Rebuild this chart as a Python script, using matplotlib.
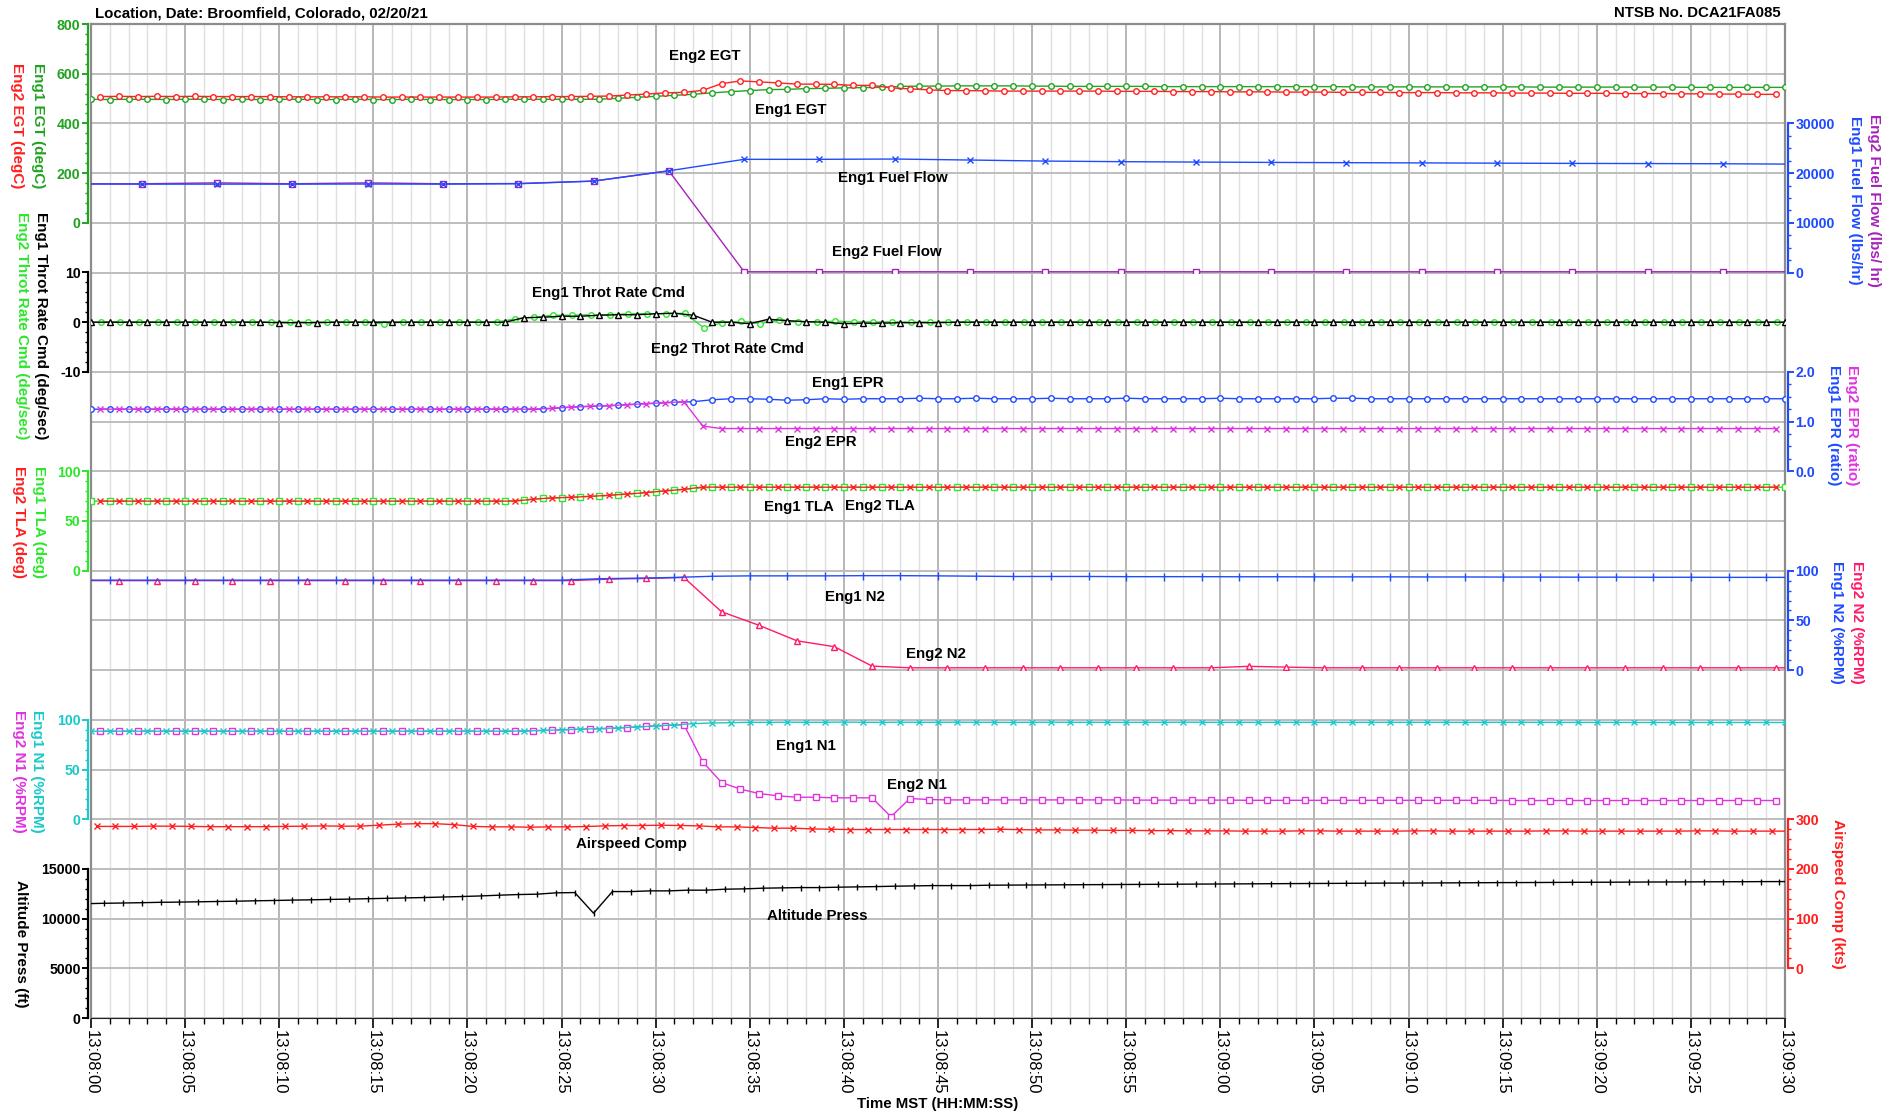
"""Flight-data strip chart: engine and air-data channels stacked on one time axis."""

import numpy as np
import matplotlib

matplotlib.use("Agg")
import matplotlib.pyplot as plt
from matplotlib.ticker import FuncFormatter, MultipleLocator

plt.rcParams["font.family"] = ["Liberation Sans", "DejaVu Sans"]
plt.rcParams["font.weight"] = "bold"

# ---------------------------------------------------------------- data
x_tick_labels = [
    "13:08:00", "13:08:05", "13:08:10", "13:08:15", "13:08:20", "13:08:25",
    "13:08:30", "13:08:35", "13:08:40", "13:08:45", "13:08:50", "13:08:55",
    "13:09:00", "13:09:05", "13:09:10", "13:09:15", "13:09:20", "13:09:25",
    "13:09:30",
]

# EGT (degC), Eng1 sampled on whole seconds, Eng2 on half seconds
egt1 = [497, 496, 497, 497, 496, 497, 497, 496, 497, 496, 497, 497, 496, 496, 497, 496,
        496, 497, 496, 496, 496, 496, 497, 497, 497, 497, 497,
        497, 501, 505, 509, 513, 517, 523, 528, 532, 536, 537, 540, 541, 543, 544, 545, 549,
        550, 550, 551, 551, 551, 551, 550, 550, 549, 549,
        549, 549, 549, 548, 548, 548, 548, 548, 548, 548, 548, 548, 548, 547, 547, 547, 547,
        547, 547, 547, 547, 547, 547, 546, 546, 546, 546, 546, 546, 546, 546, 545, 545, 545,
        545, 545, 545]
egt2 = [508, 509, 508, 509, 508, 509, 508, 508, 508, 508, 507, 507, 507, 507, 507, 506,
        506, 506, 506, 506, 506, 506, 507,
        507, 508, 508, 509, 510, 514, 518, 523, 525, 533, 560, 571, 567, 563, 558, 558, 557,
        553, 553, 543, 539, 535, 532, 532, 531, 530, 530, 530, 530, 530, 530,
        529, 529, 529, 528, 528, 528, 527, 527, 527, 526, 526, 526, 525, 525, 525, 524, 524,
        524, 523, 523, 523, 522, 522, 522, 521, 521, 521, 520, 520, 520, 519, 519, 518, 518,
        517, 517]

# Fuel flow (lbs/hr), one sample every 4 s
ff_time = [-1.3, 2.7, 6.7, 10.7, 14.7, 18.7, 22.7, 26.7, 30.7, 34.7, 38.7, 42.7, 46.7,
           50.7, 54.7, 58.7, 62.7, 66.7, 70.7, 74.7, 78.7, 82.7, 86.7, 90.7]
ff1 = [17800, 17780, 17780, 17780, 17800, 17780, 17860, 18380, 20460, 22770, 22770, 22830,
       22630, 22420, 22300, 22220, 22150, 22100, 22050, 22000, 21950, 21920, 21880, 21800]
ff2 = [17850, 17850, 18040, 17850, 18040, 17850, 17900, 18400, 20460, 150, 150, 150,
       150, 150, 150, 150, 150, 150, 150, 150, 150, 150, 150, 150]

# Throttle rate command (deg/sec)
throt1 = [0, 0, 0, 0, 0, 0, 0, 0, 0, 0, -0.1, -0.1, -0.1, 0, 0, 0, 0, 0, 0, 0, 0, 0, 0,
          0.9, 1.0, 1.2, 1.2, 1.4, 1.5, 1.5, 1.7, 1.8, 1.4, 0.0, 0.0, -0.3, 0.6, 0.3, 0.1,
          0.0, -0.3, -0.2, -0.2,
          -0.1, -0.1, -0.1] + [0] * 45
throt2 = [0] * 15 + [-0.35, 0, 0, 0, 0, 0, 0,
                     0.7, 1.0, 1.4, 1.4, 1.5, 1.5, 1.7, 1.7, 1.7, 1.8, -1.1, -0.1, 0.2,
                     -0.3, 0.5, 0.1, 0.1, 0.2, 0.1] + [0] * 49

# EPR (ratio)
epr1 = [1.25] * 25 + [1.28, 1.30, 1.31, 1.33, 1.35, 1.37, 1.39, 1.40, 1.44, 1.46, 1.46,
                      1.45, 1.43, 1.44, 1.46, 1.45, 1.46, 1.46,
                      1.46, 1.47, 1.46, 1.46, 1.47, 1.46, 1.46, 1.46, 1.47, 1.46, 1.46,
                      1.46, 1.47, 1.46, 1.46, 1.46, 1.46, 1.47, 1.46, 1.46, 1.46, 1.46,
                      1.46, 1.47, 1.47, 1.46] + [1.46] * 22
epr2 = [1.25] * 24 + [1.27, 1.29, 1.31, 1.32, 1.34, 1.36, 1.38, 1.40, 0.91] + [0.86] * 57

# TLA (deg)
tla1 = [70.0] * 23 + [71.0, 72.8, 73.4, 74.4, 75.1, 76.5, 77.8, 79.5, 81.2, 82.8, 83.8] + [84.0] * 57
tla2 = [70.0] * 23 + [72.0, 73.2, 73.8, 74.8, 75.8, 77.2, 78.5, 80.3, 81.8, 84.2] + [84.0] * 57

# N2 (%RPM), one sample every 2 s
n2_1 = [90.5] * 14 + [91.9, 92.5, 93.2, 94.4, 94.8, 94.8, 94.8, 95.0, 95.0, 94.8, 94.5,
                      94.2, 94.2, 94.2,
                      94.0, 94.0, 94.0, 93.9, 93.9, 93.8, 93.8, 93.8, 93.7, 93.7, 93.6,
                      93.6, 93.5, 93.5, 93.4, 93.4, 93.3, 93.3, 93.3]
n2_2 = [90.0] * 14 + [91.5, 92.2, 93.2, 58.7, 45.0, 29.5, 23.5, 4.0, 2.3,
                      2.3, 2.3, 2.3, 2.3, 2.3, 2.3, 2.3, 2.3, 3.8, 3.0] + [2.3] * 14

# N1 (%RPM)
n1_1 = [88.5] * 23 + [88.8, 89.3, 89.9, 90.5, 91.2, 91.8, 92.8, 93.8, 94.8, 96.1, 96.8,
                      97.1,
                      97.5, 97.4, 97.6, 97.5, 97.5, 97.7, 97.5, 97.4, 97.6, 97.5, 97.5,
                      97.6, 97.5, 97.5, 97.4, 97.5, 97.6, 97.5, 97.5, 97.5, 97.4, 97.5,
                      97.5, 97.6, 97.5, 97.5, 97.5, 97.4, 97.5, 97.5, 97.5, 97.5, 97.4,
                      97.5, 97.5, 97.5, 97.5, 97.5, 97.4, 97.5, 97.5, 97.5, 97.5, 97.4,
                      97.4, 97.4, 97.4, 97.3, 97.3, 97.3, 97.3, 97.3, 97.3, 97.3, 97.3,
                      97.3]
n1_2 = [88.5] * 23 + [89.0, 89.6, 90.2, 90.8, 91.2, 92.2, 93.5, 94.2, 95.2,
                      57.7, 36.9, 30.2, 25.8, 23.5, 22.1, 22.1, 21.5, 21.5, 21.5, 2.4,
                      20.8, 19.8] + [19.4] * 10 + [19.2] * 6 + [19.0] * 14 + [18.8] * 15

# Airspeed comp (kts)
airspeed = [285.5, 285.5, 285.5, 286, 286, 285.5, 285, 285, 285, 285, 285.5, 286, 286.5,
            286, 286, 288, 290, 291, 291, 289, 285.5, 284.6,
            284.6, 283.9, 284.6, 284.6, 285.3, 286.6, 287.3, 287.3, 287.9, 287.3, 286.6,
            284.6, 284.6, 283.2, 281.9, 281.9, 280.5, 279.8,
            279.2, 279.2, 279.2, 279.2, 279.2, 279.2, 279.2, 279.2,
            279.8, 279.0, 278.5, 278.5, 278.0, 278.0, 277.5, 277.5, 277.0, 277.0, 276.5,
            276.5, 276.5, 276.0, 276.0, 276.0, 276.5, 276.5, 276.0, 276.0, 276.0, 276.0,
            276.5, 276.5, 276.0, 276.0, 276.0, 276.0, 276.0, 276.5, 276.5, 276.0, 276.0,
            276.0, 276.0, 276.0, 276.0, 276.5, 276.5, 276.0, 276.0, 276.0, 276.0]

# Pressure altitude (ft)
altitude = [11500, 11540, 11570, 11600, 11640, 11660, 11690, 11720, 11750, 11790, 11820,
            11860, 11890, 11930, 11960, 12000, 12040, 12080, 12120, 12170, 12220, 12280,
            12356, 12420, 12457, 12590, 12620, 10540, 12720, 12720, 12790, 12790, 12860,
            12860, 12960, 12990, 13060, 13090, 13120, 13120, 13160, 13190, 13220, 13260,
            13290, 13320, 13320, 13320, 13360,
            13370, 13380, 13390, 13400, 13410, 13420, 13430, 13440, 13450, 13460, 13470,
            13480, 13490, 13500, 13510, 13520, 13530, 13540, 13550, 13560, 13570, 13575,
            13580, 13590, 13600, 13610, 13620, 13625, 13630, 13640, 13650, 13655, 13660,
            13670, 13680, 13685, 13690, 13700, 13705, 13710, 13720, 13725, 13730]

# ---------------------------------------------------------------- layout (pixels)
W, H = 1894, 1115
PLOT_LEFT, PLOT_RIGHT, PLOT_TOP, PLOT_BOTTOM = 91, 1785, 24, 1018
N_ROWS = 20
ROW_H = (PLOT_BOTTOM - PLOT_TOP) / N_ROWS

GREEN = "#22a322"
RED = "#ff2020"
BLUE = "#1f4bff"
PURPLE = "#a424b8"
LIME = "#2ee62e"
MAGENTA = "#e033e0"
PINK = "#ff1a6a"
CYAN = "#1cc9c9"
BLACK = "#000000"


def band_rect(row_top, row_bottom):
    top = PLOT_TOP + row_top * ROW_H
    bottom = PLOT_TOP + row_bottom * ROW_H
    return [PLOT_LEFT / W, 1 - bottom / H, (PLOT_RIGHT - PLOT_LEFT) / W, (bottom - top) / H]


def channel(rows, side, color, lim, major, minor, fmt="{:.0f}"):
    ax = fig.add_axes(band_rect(*rows))
    ax.patch.set_visible(False)
    ax.set_xlim(0, 90)
    ax.set_ylim(*lim)
    ax.xaxis.set_visible(False)
    for name, spine in ax.spines.items():
        spine.set_visible(name == side)
    spine = ax.spines[side]
    spine.set_color(color)
    spine.set_linewidth(1.6)
    spine.set_position(("outward", 2))
    ax.yaxis.set_ticks_position(side)
    ax.yaxis.set_major_locator(MultipleLocator(major))
    ax.yaxis.set_minor_locator(MultipleLocator(minor))
    ax.yaxis.set_major_formatter(FuncFormatter(lambda v, _: fmt.format(v)))
    ax.tick_params(axis="y", which="both", colors=color, direction="out", labelsize=10.2)
    ax.tick_params(axis="y", which="major", length=4.5, width=1.4, pad=1)
    ax.tick_params(axis="y", which="minor", length=2.5, width=1.0)
    return ax


def trace(ax, t, v, color, marker, ms=4.0):
    ax.plot(t, v, color=color, lw=1.0, marker=marker, ms=ms, mfc="white", mec=color,
            mew=1.0, clip_on=True)


def side_label(x_px, y_px, text, color):
    fig.text(x_px / W, 1 - y_px / H, text, rotation=270, ha="center", va="center",
             fontsize=11, color=color)


def secs(values, offset=0.0, step=1.0):
    """Sample times for a channel logged at a fixed rate."""
    return np.arange(len(values)) * step + offset


fig = plt.figure(figsize=(W / 100, H / 100), dpi=100)

# base grid + time axis
base = fig.add_axes([PLOT_LEFT / W, 1 - PLOT_BOTTOM / H, (PLOT_RIGHT - PLOT_LEFT) / W,
                     (PLOT_BOTTOM - PLOT_TOP) / H])
base.set_xlim(0, 90)
base.set_ylim(0, N_ROWS)
base.set_yticks(np.arange(0, N_ROWS + 1))
base.tick_params(axis="y", left=False, labelleft=False)
base.set_xticks(np.arange(0, 91, 5))
base.set_xticklabels(x_tick_labels, rotation=270, fontsize=12, fontweight="normal")
base.xaxis.set_minor_locator(MultipleLocator(1))
base.tick_params(axis="x", which="major", length=7, width=1.2, pad=2, direction="out")
base.tick_params(axis="x", which="minor", length=4, width=1.0, direction="out")
base.grid(which="minor", axis="x", color="#e0e0e0", lw=1.0)
base.grid(which="major", axis="x", color="#aaaaaa", lw=1.2)
base.grid(which="major", axis="y", color="#bdbdbd", lw=1.4)
for name in ("left", "right", "top"):
    base.spines[name].set_color("#8c8c8c")
    base.spines[name].set_linewidth(1.6)
base.spines["bottom"].set_color("#222222")

# EGT
ax = channel((0, 4), "left", GREEN, (0, 800), 200, 40)
trace(ax, secs(egt1), egt1, GREEN, "o")
trace(ax, secs(egt2, 0.5), egt2, RED, "o")
ax.text(32.6, 671, "Eng2 EGT", ha="center", va="center", fontsize=10.8)
ax.text(37.2, 452, "Eng1 EGT", ha="center", va="center", fontsize=10.8)
side_label(38, 126, "Eng1 EGT (degC)", GREEN)
side_label(17, 126, "Eng2 EGT (degC)", RED)

# Fuel flow
ax = channel((2, 5), "right", BLUE, (0, 30000), 10000, 2500)
trace(ax, ff_time, ff2, PURPLE, "s", ms=3.8)
trace(ax, ff_time, ff1, BLUE, "x", ms=4.0)
ax.text(42.6, 19000, "Eng1 Fuel Flow", ha="center", va="center", fontsize=10.8)
ax.text(42.3, 4040, "Eng2 Fuel Flow", ha="center", va="center", fontsize=10.8)
side_label(1855, 200, "Eng1 Fuel Flow (lbs/hr)", BLUE)
side_label(1874, 200, "Eng2 Fuel Flow (lbs/ hr)", PURPLE)

# Throttle rate command
ax = channel((5, 7), "left", BLACK, (-10, 10), 10, 2)
trace(ax, secs(throt2, 0.55), throt2, LIME, "o")
trace(ax, secs(throt1), throt1, BLACK, "^", ms=4.2)
ax.text(27.5, 5.8, "Eng1 Throt Rate Cmd", ha="center", va="center", fontsize=10.8)
ax.text(33.8, -5.4, "Eng2 Throt Rate Cmd", ha="center", va="center", fontsize=10.8)
side_label(41, 326, "Eng1 Throt Rate Cmd (deg/sec)", BLACK)
side_label(22, 326, "Eng2 Throt Rate Cmd (deg/sec)", LIME)

# EPR
ax = channel((7, 9), "right", BLUE, (0, 2), 1.0, 0.25, fmt="{:.1f}")
trace(ax, secs(epr1), epr1, BLUE, "o")
trace(ax, secs(epr2, 0.5), epr2, MAGENTA, "x")
ax.text(40.2, 1.77, "Eng1 EPR", ha="center", va="center", fontsize=10.8)
ax.text(38.8, 0.58, "Eng2 EPR", ha="center", va="center", fontsize=10.8)
side_label(1834, 425, "Eng1 EPR (ratio)", BLUE)
side_label(1852, 425, "Eng2 EPR (ratio)", MAGENTA)

# TLA
ax = channel((9, 11), "left", LIME, (0, 100), 50, 10)
trace(ax, secs(tla1), tla1, LIME, "s", ms=3.8)
trace(ax, secs(tla2, 0.5), tla2, RED, "x")
ax.text(37.6, 64, "Eng1 TLA", ha="center", va="center", fontsize=10.8)
ax.text(41.9, 65, "Eng2 TLA", ha="center", va="center", fontsize=10.8)
side_label(39, 522, "Eng1 TLA (deg)", LIME)
side_label(19, 522, "Eng2 TLA (deg)", RED)

# N2
ax = channel((11, 13), "right", BLUE, (0, 100), 50, 10)
trace(ax, secs(n2_2, -0.5, 2.0), n2_2, PINK, "^", ms=4.2)
trace(ax, secs(n2_1, -1.0, 2.0), n2_1, BLUE, "|", ms=6)
ax.text(40.6, 74, "Eng1 N2", ha="center", va="center", fontsize=10.8)
ax.text(44.9, 16, "Eng2 N2", ha="center", va="center", fontsize=10.8)
side_label(1837, 622, "Eng1 N2 (%RPM)", BLUE)
side_label(1857, 622, "Eng2 N2 (%RPM)", PINK)

# N1
ax = channel((14, 16), "left", CYAN, (0, 100), 50, 10)
trace(ax, secs(n1_2, 0.5), n1_2, MAGENTA, "s", ms=3.8)
trace(ax, secs(n1_1), n1_1, CYAN, "x")
ax.text(38.0, 74, "Eng1 N1", ha="center", va="center", fontsize=10.8)
ax.text(43.9, 34, "Eng2 N1", ha="center", va="center", fontsize=10.8)
side_label(37, 771, "Eng1 N1 (%RPM)", CYAN)
side_label(19, 771, "Eng2 N1 (%RPM)", MAGENTA)

# Airspeed
ax = channel((16, 19), "right", RED, (0, 300), 100, 20)
trace(ax, secs(airspeed, 0.3), airspeed, RED, "x")
ax.text(28.7, 250, "Airspeed Comp", ha="center", va="center", fontsize=10.8)
side_label(1838, 894, "Airspeed Comp (kts)", RED)

# Altitude
ax = channel((17, 20), "left", BLACK, (0, 15000), 5000, 1000)
trace(ax, secs(altitude, -0.3), altitude, BLACK, "|", ms=5)
ax.text(38.6, 10270, "Altitude Press", ha="center", va="center", fontsize=10.8)
side_label(21, 944, "Altitude Press (ft)", BLACK)

# header and x label
fig.text(95 / W, 1 - 13 / H, "Location, Date: Broomfield, Colorado, 02/20/21",
         ha="left", va="center", fontsize=10.8)
fig.text(1781 / W, 1 - 13 / H, "NTSB No. DCA21FA085", ha="right", va="center",
         fontsize=10.8)
fig.text(938 / W, 1 - 1104 / H, "Time MST (HH:MM:SS)", ha="center", va="center",
         fontsize=10.8)

fig.savefig("out.png", dpi=100)
